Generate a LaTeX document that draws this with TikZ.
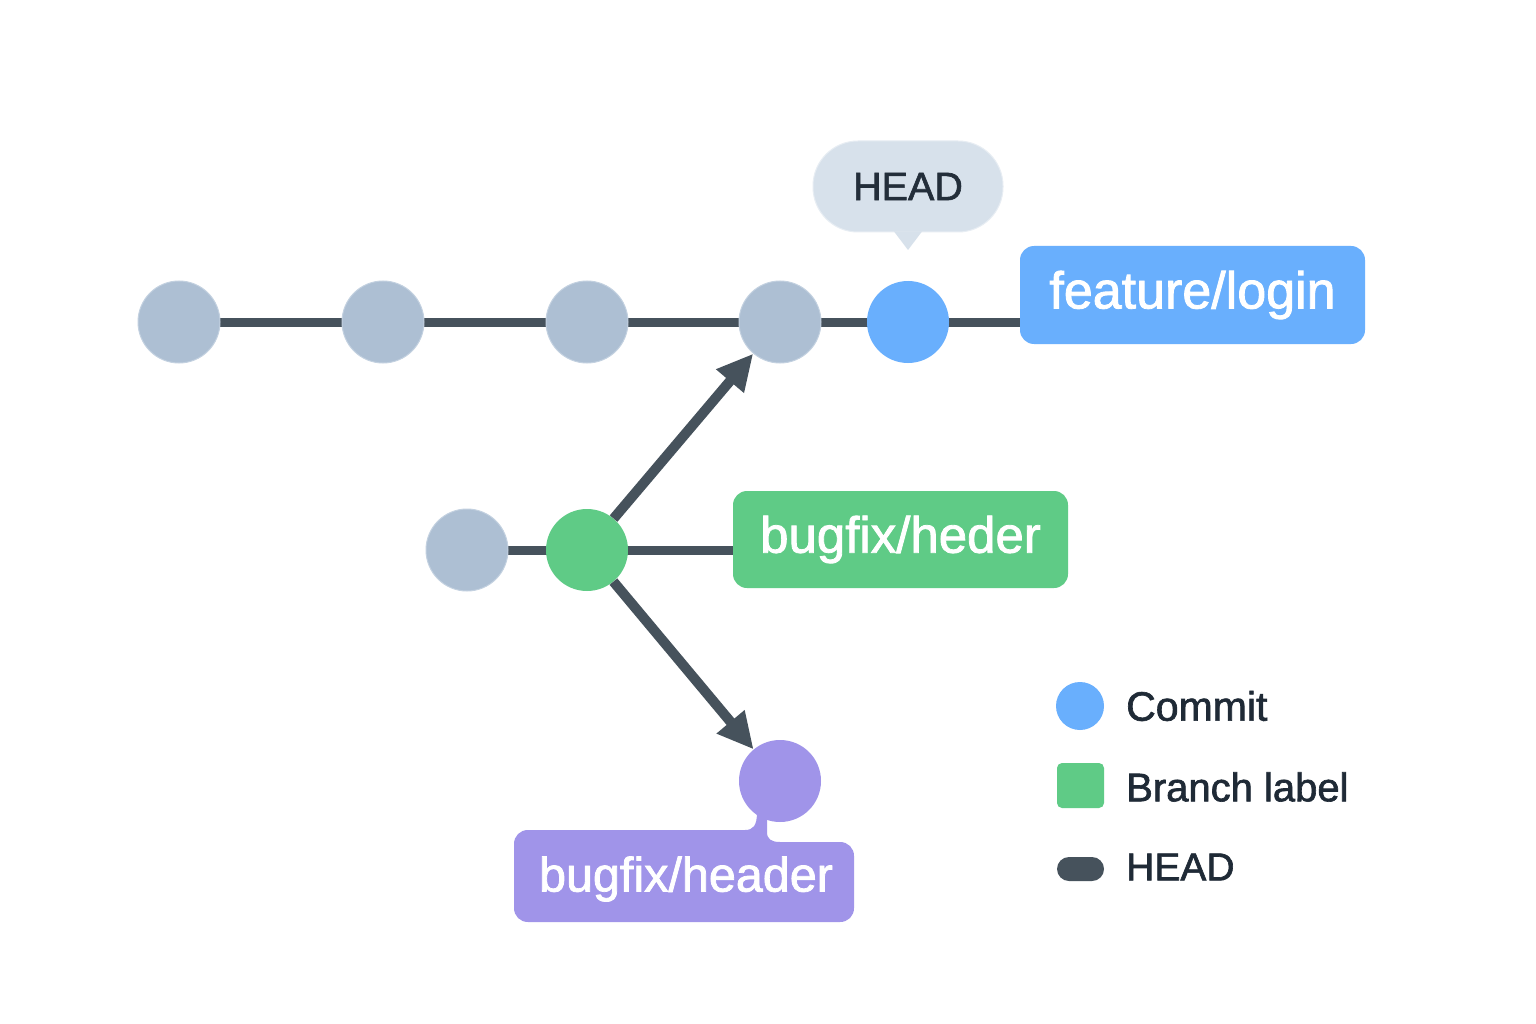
\documentclass[tikz,border=0pt]{standalone}
\usepackage{fontspec}
\setmainfont{Liberation Sans}
\newfontfamily\medfont[FakeBold=1.6]{Liberation Sans}
\usetikzlibrary{arrows.meta}
\pgfdeclarelayer{bg}
\pgfdeclarelayer{links}
\pgfsetlayers{bg,links,main}
\definecolor{cgrey}{HTML}{ADBFD3}
\definecolor{cgreyb}{HTML}{C3D1E0}
\definecolor{cblue}{HTML}{69AFFD}
\definecolor{cgreen}{HTML}{5FCB86}
\definecolor{cpurple}{HTML}{A094E9}
\definecolor{cdark}{HTML}{46525C}
\definecolor{cbubble}{HTML}{D7E1EB}
\definecolor{ctext}{HTML}{1F2A36}
\tikzset{
  commit/.style={circle,minimum size=82pt,inner sep=0pt,fill=#1},
  oldcommit/.style={commit=cgrey,draw=cgreyb,line width=1pt},
  branchbox/.style={rectangle,rounded corners=14pt,fill=#1,text=white,inner sep=0pt,
     font=\medfont\fontsize{51}{60}\selectfont},
  link/.style={draw=cdark,line width=9pt},
  arrowlink/.style={draw=cdark,line width=10pt,-{Triangle[length=36pt,width=34pt]}},
  legendtext/.style={anchor=west,text=ctext,font=\medfont\fontsize{40}{46}\selectfont,inner sep=0pt},
}
\begin{document}
\begin{tikzpicture}[x=1pt,y=-1pt]
\begin{pgfonlayer}{bg}
\fill[white] (0,0) rectangle (1536,1024);
\end{pgfonlayer}
\useasboundingbox (0,0) rectangle (1536,1024);
% top row
\node[oldcommit] (c1) at (179,322) {};
\node[oldcommit] (c2) at (383,322) {};
\node[oldcommit] (c3) at (587,322) {};
\node[oldcommit] (c4) at (780,322) {};
\node[commit=cblue] (c5) at (908,322) {};
\node[branchbox=cblue,minimum width=345pt,minimum height=98pt,font=\medfont\fontsize{52}{60}\selectfont] (fl) at (1192.5,295) {feature/login};
% HEAD bubble
\node[rectangle,rounded corners=45pt,fill=cbubble,draw=cbubble!60!white,line width=1pt,
      minimum width=190pt,minimum height=91pt,text=ctext!90!cdark,
      font=\medfont\fontsize{39.5}{46}\selectfont] (head) at (908,186.5) {HEAD};
\fill[cbubble] (894,231.5) -- (922,231.5) -- (908,250) -- cycle;
% second row
\node[oldcommit] (b0) at (467,550) {};
\node[commit=cgreen] (b1) at (587,550) {};
\node[branchbox=cgreen,minimum width=335pt,minimum height=97pt] (bh) at (900.5,539.5) {bugfix/heder};
% purple
\node[commit=cpurple] (p) at (780,781) {};
\fill[cpurple] (528,830) -- (745,830) .. controls (753,830) and (757,826) .. (757,812)
  -- (767,812) -- (767,832) .. controls (767,839) and (771,842) .. (780,842)
  -- (840,842) .. controls (848,842) and (854,848) .. (854,856)
  -- (854,908) .. controls (854,916) and (848,922) .. (840,922)
  -- (528,922) .. controls (520,922) and (514,916) .. (514,908)
  -- (514,844) .. controls (514,836) and (520,830) .. (528,830) -- cycle;
\node[text=white,inner sep=0pt,font=\medfont\fontsize{48.5}{60}\selectfont] (ph) at (686,879) {bugfix/header};
% links
\begin{pgfonlayer}{links}
\draw[link] (c1.center) -- (c2.center) -- (c3.center) -- (c4.center) -- (c5.center) -- (c5.center -| fl.west);
\draw[link] (b0.center) -- (b1.center) -- (b1.center -| bh.west);
\end{pgfonlayer}
\draw[arrowlink] (b1) -- (c4);
\draw[arrowlink] (b1) -- (p);
% legend
\node[circle,fill=cblue,minimum size=48pt,inner sep=0pt] (lc) at (1080,706) {};
\node[rectangle,rounded corners=5pt,fill=cgreen,minimum width=47pt,minimum height=45pt,inner sep=0pt] (lb) at (1080.5,785.5) {};
\node[rectangle,rounded corners=12pt,fill=cdark,minimum width=47pt,minimum height=24pt,inner sep=0pt] (lh) at (1080.5,869) {};
\node[legendtext,font=\medfont\fontsize{41}{46}\selectfont] (tc) at (1126,706) {Commit};
\node[legendtext] (tb) at (1126,787) {Branch label};
\node[legendtext,font=\medfont\fontsize{39}{46}\selectfont] (th) at (1126,867) {HEAD};
\end{tikzpicture}
\end{document}
